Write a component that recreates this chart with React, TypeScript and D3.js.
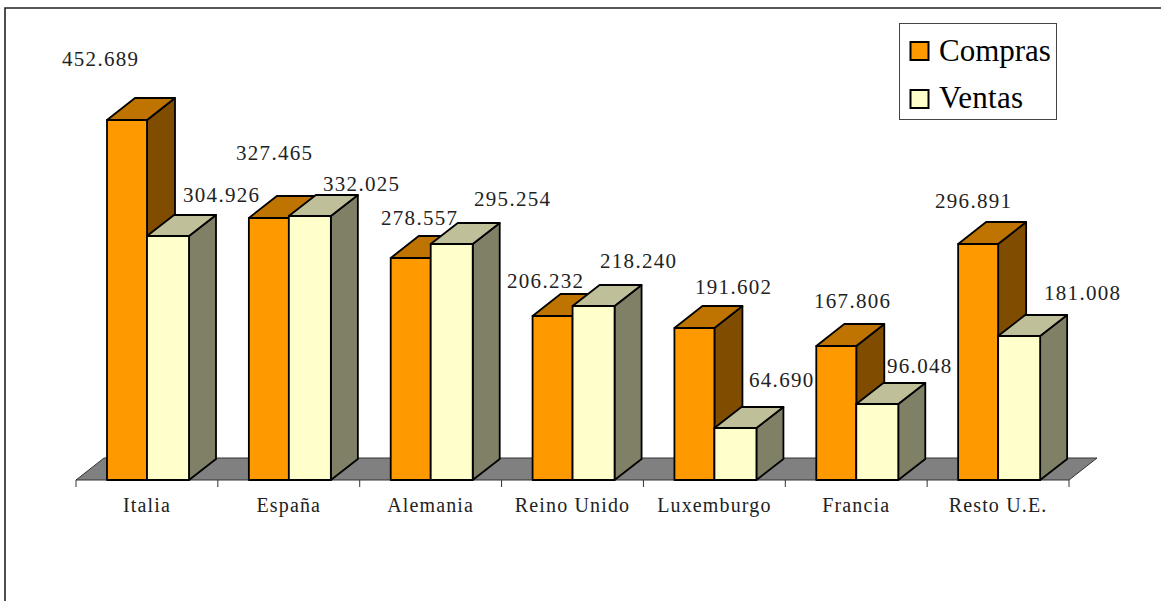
import React from "react";
import * as d3 from "d3";

const categories = ["Italia", "España", "Alemania", "Reino Unido", "Luxemburgo", "Francia", "Resto U.E."];
const compras = [452689, 327465, 278557, 206232, 191602, 167806, 296891];
const ventas = [304926, 332025, 295254, 218240, 64690, 96048, 181008];
const comprasLabelPos = [[62, 65], [236, 159], [381, 224], [507, 287], [695, 293], [814, 307], [935, 207]];
const ventasLabelPos = [[183, 201], [323, 190], [474, 205], [600, 267], [749, 386], [887, 372], [1044, 299]];

const fmt = (v: number) => d3.format(",")(v).replace(",", ".");
const serif = "'Liberation Serif', 'Times New Roman', serif";
const DX = 28, DY = -22;

function Bar({ x, w, y, y0, dx, dy, front, top, side }: any) {
  return (
    <g stroke="#000" strokeWidth={1.8} strokeLinejoin="round">
      <path d={`M${x + w},${y}L${x + w + dx},${y + dy}V${y0 + dy}L${x + w},${y0}Z`} fill={side} />
      <path d={`M${x},${y}L${x + dx},${y + dy}H${x + w + dx}L${x + w},${y}Z`} fill={top} />
      <rect x={x} y={y} width={w} height={y0 - y} fill={front} />
    </g>
  );
}

export default function App() {
  const x = d3.scaleBand<string>().domain(categories).range([76, 1069]);
  const y0 = 480;
  const h = d3.scaleLinear().domain([0, 450000]).range([0, 358.8]);
  const y = (v: number) => y0 - Math.round(h(v) / 2) * 2;
  return (
    <svg width={1161} height={601} style={{ position: "fixed", left: 0, top: 0 }} fontFamily={serif}>
      <rect width={1161} height={601} fill="#fff" />
      <path d="M5,601V8H1161" fill="none" stroke="#222" strokeWidth={1.6} />
      <path d={`M76,${y0}L${76 + DX},${y0 + DY}H${1069 + DX}L1069,${y0}Z`} fill="#808080" stroke="#333" strokeWidth={1} />
      {categories.concat("").map((_, i) => {
        const t = 76 + (i * (1069 - 76)) / 7;
        return <line key={i} x1={t} x2={t} y1={y0} y2={487} stroke="#333" />;
      })}
      {categories.map((c, i) => {
        const b = x(c)!;
        return (
          <g key={c}>
            <Bar x={b + 31} w={40} y={y(compras[i])} y0={y0} dx={DX} dy={DY} front="#ff9900" top="#bf7300" side="#804d00" />
            <Bar x={b + 71} w={42} y={y(ventas[i])} y0={y0} dx={27} dy={-21} front="#ffffcc" top="#bfbf99" side="#808066" />
            <text x={b + x.bandwidth() / 2} y={512} textAnchor="middle" fontSize={20} letterSpacing={1.15} fill="#222">{c}</text>
          </g>
        );
      })}
      {compras.map((v, i) => (
        <text key={i} x={comprasLabelPos[i][0]} y={comprasLabelPos[i][1] + 1} fontSize={21} letterSpacing={1.3} fill="#222">{fmt(v)}</text>
      ))}
      {ventas.map((v, i) => (
        <text key={i} x={ventasLabelPos[i][0]} y={ventasLabelPos[i][1] + 1} fontSize={21} letterSpacing={1.3} fill="#222">{fmt(v)}</text>
      ))}
      <rect x={899.5} y={23.5} width={157} height={96} fill="#fff" stroke="#444" />
      <rect x={910.5} y={42} width={18} height={18} fill="#ff9900" stroke="#000" strokeWidth={2} />
      <rect x={910.5} y={90} width={18} height={18} fill="#ffffcc" stroke="#000" strokeWidth={2} />
      <text x={939} y={61} fontSize={31}>Compras</text>
      <text x={939} y={108} fontSize={31} letterSpacing={0.3}>Ventas</text>
    </svg>
  );
}
